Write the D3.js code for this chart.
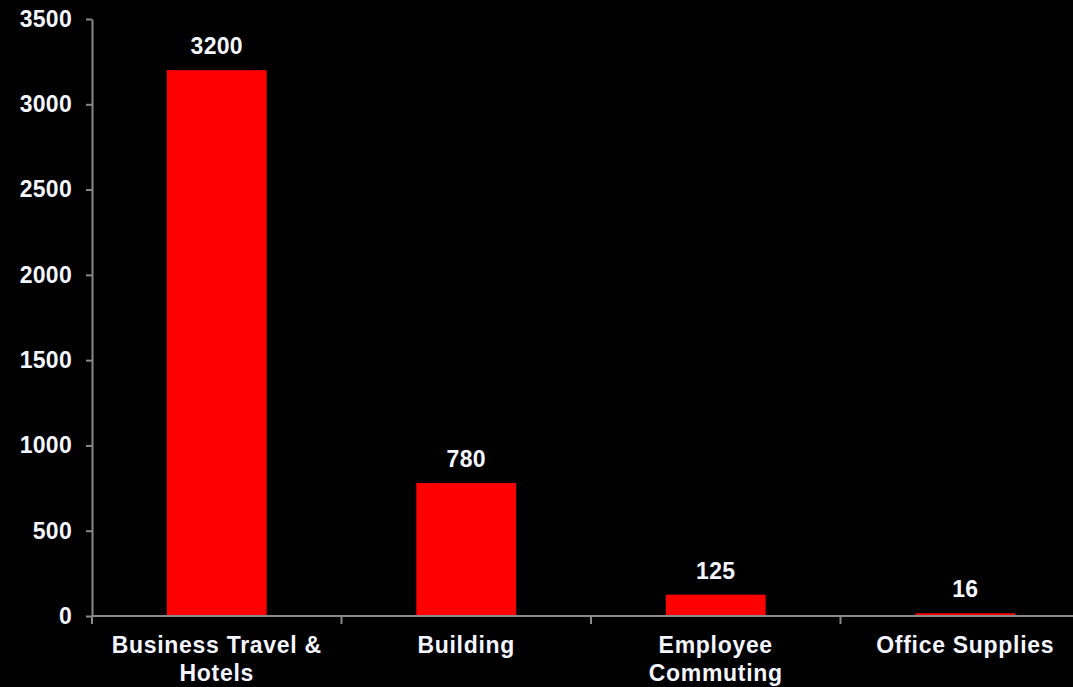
<!DOCTYPE html>
<html>
<head>
<meta charset="utf-8">
<script src="https://cdn.jsdelivr.net/npm/d3@7"></script>
<style>
  body { margin: 0; background: #000; }
  svg { display: block; }
  text { font-family: "Liberation Sans", Arial, sans-serif; font-weight: bold; fill: #f4f6ff; }
</style>
</head>
<body>
<div id="chart"></div>
<script>

const categories = ["Business Travel & Hotels", "Building", "Employee Commuting", "Office Supplies"];
const categoryLabels = ["Business Travel &\nHotels", "Building", "Employee\nCommuting", "Office Supplies"];
const values = [3200, 780, 125, 16];
const yTicks = [0, 500, 1000, 1500, 2000, 2500, 3000, 3500];

const width = 1073, height = 687;
const margin = { top: 19, left: 92, bottom: 71 };
const plotRight = 1090; // category axis runs past the right edge

const svg = d3.select("#chart")
  .append("svg")
  .attr("width", width)
  .attr("height", height)
  .style("background", "#000");

// Scales
const y = d3.scaleLinear()
  .domain([0, 3500])
  .range([height - margin.bottom, margin.top]);

const slots = d3.scaleBand()
  .domain(categories)
  .range([margin.left, plotRight]);

const x = d3.scaleBand()
  .domain(categories)
  .range([margin.left, plotRight])
  .paddingInner(0.6)
  .paddingOuter(0.3);

const axisColor = "#8a8a8a";
const y0 = y(0);

// Bars
svg.append("g")
  .selectAll("rect")
  .data(values)
  .join("rect")
  .attr("x", (d, i) => x(categories[i]))
  .attr("y", d => y(d))
  .attr("width", x.bandwidth())
  .attr("height", d => y0 - y(d))
  .attr("fill", "#ff0000");

// Value labels
svg.append("g")
  .selectAll("text")
  .data(values)
  .join("text")
  .attr("x", (d, i) => x(categories[i]) + x.bandwidth() / 2)
  .attr("y", d => y(d) - 16)
  .attr("text-anchor", "middle")
  .style("font-size", "23px")
  .style("letter-spacing", "0.3px")
  .text(d => d);

// Y axis
const yAxis = svg.append("g")
  .attr("transform", `translate(${margin.left},0)`)
  .call(d3.axisLeft(y)
    .tickValues(yTicks)
    .tickFormat(d3.format("d"))
    .tickSize(6)
    .tickPadding(14)
    .tickSizeOuter(0));

yAxis.select(".domain").attr("stroke", axisColor).attr("stroke-width", 2);
yAxis.selectAll(".tick line").attr("stroke", axisColor).attr("stroke-width", 2);
yAxis.selectAll(".tick text")
  .style("font-size", "23px")
  .style("letter-spacing", "0.3px")
  .style("font-family", "'Liberation Sans', Arial, sans-serif")
  .attr("fill", "#f4f6ff");

// X axis line with ticks at category boundaries
const xAxis = svg.append("g");
xAxis.append("line")
  .attr("x1", margin.left)
  .attr("x2", plotRight)
  .attr("y1", y0)
  .attr("y2", y0)
  .attr("stroke", axisColor)
  .attr("stroke-width", 2);

xAxis.selectAll(".xtick")
  .data(categories)
  .join("line")
  .attr("class", "xtick")
  .attr("x1", d => slots(d))
  .attr("x2", d => slots(d))
  .attr("y1", y0)
  .attr("y2", y0 + 8)
  .attr("stroke", axisColor)
  .attr("stroke-width", 2);

// Category labels
const labels = xAxis.selectAll(".xlabel")
  .data(categories)
  .join("text")
  .attr("class", "xlabel")
  .attr("text-anchor", "middle")
  .style("font-size", "23px")
  .style("letter-spacing", "0.7px")
  .attr("x", d => slots(d) + slots.bandwidth() / 2)
  .attr("y", y0 + 37);

labels.selectAll("tspan")
  .data((d, i) => categoryLabels[i].split("\n"))
  .join("tspan")
  .attr("x", function () { return this.parentNode.getAttribute("x"); })
  .attr("dy", (d, i) => i === 0 ? 0 : 28)
  .text(d => d);

</script>
</body>
</html>
